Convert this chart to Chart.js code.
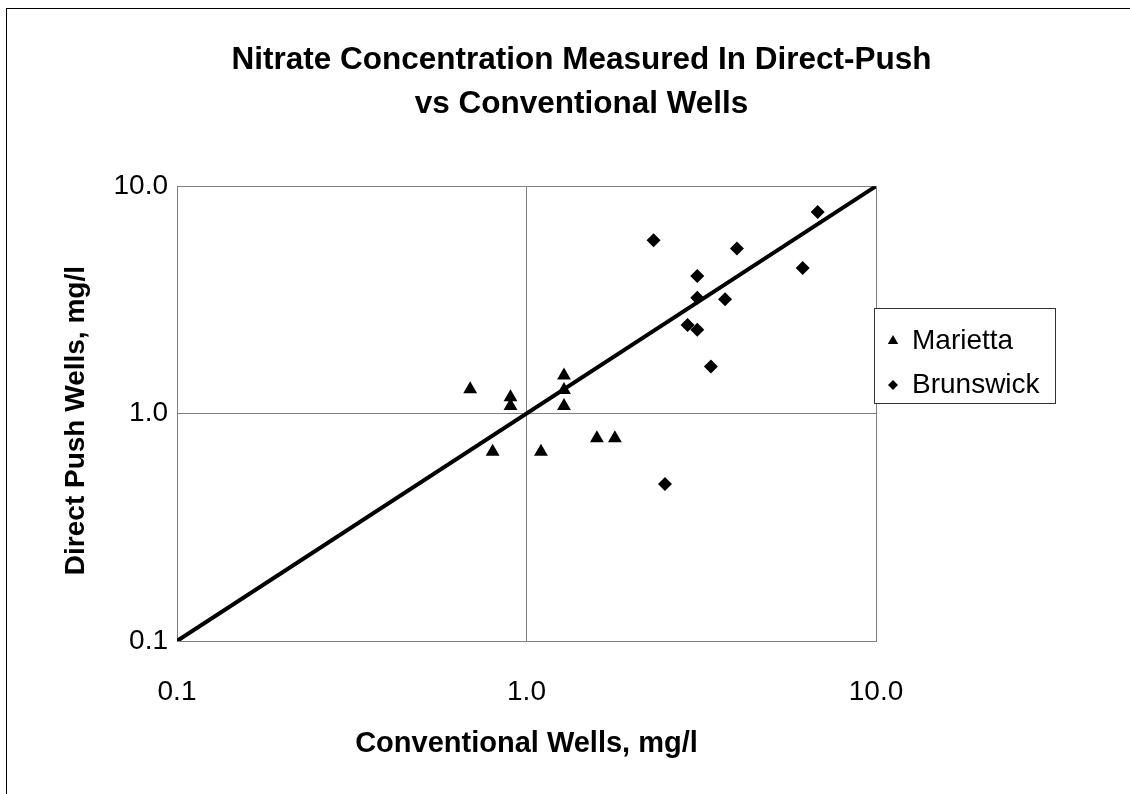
<!DOCTYPE html>
<html><head><meta charset="utf-8">
<script src="https://cdn.jsdelivr.net/npm/chart.js@4"></script>
<style>html,body{margin:0;padding:0;background:#fff}canvas{display:block}</style>
</head><body>
<div style="width:1130px;height:794px"><canvas id="c" width="1130" height="794"></canvas></div>
<script>
const titleLines = ['Nitrate Concentration Measured In Direct-Push', 'vs Conventional Wells'];
const xAxisTitle = 'Conventional Wells, mg/l';
const yAxisTitle = 'Direct Push Wells, mg/l';
const seriesNames = ['Marietta', 'Brunswick'];

const mariettaX = [0.69, 0.90, 0.90, 1.28, 1.28, 1.28, 1.59, 1.79, 0.80, 1.10];
const mariettaY = [1.28, 1.18, 1.08, 1.47, 1.27, 1.08, 0.78, 0.78, 0.68, 0.68];

const brunswickX = [2.31, 6.81, 4.00, 6.17, 3.08, 3.08, 3.70, 2.89, 3.08, 3.37, 2.49];
const brunswickY = [5.79, 7.71, 5.32, 4.37, 4.03, 3.23, 3.18, 2.45, 2.34, 1.61, 0.49];

const lineX = [0.1, 10];
const lineY = [0.1, 10];

const tickValues = [0.1, 1, 10];
const tickLabels = ['0.1', '1.0', '10.0'];

const FONT = "'Liberation Sans', Arial, Helvetica, sans-serif";
const pts = (xs, ys) => xs.map((x, i) => ({x: x, y: ys[i]}));
const setTicks = s => { s.ticks = tickValues.map(v => ({value: v})); };
const tickCb = v => { const i = tickValues.findIndex(t => Math.abs(t - v) < 1e-9); return i >= 0 ? tickLabels[i] : ''; };

const framePlugin = {
  id: 'frame',
  afterDraw(chart) {
    const ctx = chart.ctx;
    ctx.save();
    // outer chart border
    ctx.strokeStyle = '#000';
    ctx.lineWidth = 1;
    ctx.strokeRect(6.5, 8.5, 1400, 1000);
    // y axis title
    const ya = chart.scales.y;
    ctx.translate(76, (ya.top + ya.bottom) / 2 + 7);
    ctx.rotate(-Math.PI / 2);
    ctx.font = 'bold 28px ' + FONT;
    ctx.fillStyle = '#000';
    ctx.textAlign = 'center';
    ctx.textBaseline = 'middle';
    ctx.fillText(yAxisTitle, 0, 0);
    ctx.setTransform(1, 0, 0, 1, 0, 0);
    // legend
    const bx = 874.5, by = 308.5, bw = 181, bh = 95;
    ctx.fillStyle = '#fff';
    ctx.fillRect(bx, by, bw, bh);
    ctx.strokeStyle = '#333';
    ctx.strokeRect(bx, by, bw, bh);
    const items = chart.data.datasets.filter(d => d.type === 'scatter');
    const rows = [{my: 341, ty: 349, r: 6}, {my: 385, ty: 393, r: 5}];
    ctx.font = '28px ' + FONT;
    ctx.textBaseline = 'alphabetic';
    ctx.textAlign = 'left';
    items.forEach((d, i) => {
      const row = rows[i];
      ctx.fillStyle = '#000';
      ctx.strokeStyle = '#000';
      Chart.helpers.drawPoint(ctx, {pointStyle: d.pointStyle, radius: row.r, borderWidth: 0, rotation: 0}, 893, row.my);
      ctx.fillStyle = '#000';
      ctx.fillText(d.label, 912, row.ty);
    });
    ctx.restore();
  }
};

new Chart(document.getElementById('c'), {
  data: {
    datasets: [
      {type: 'scatter', label: seriesNames[0], data: pts(mariettaX, mariettaY), pointStyle: 'triangle', pointRadius: 8, backgroundColor: '#000', borderColor: '#000', borderWidth: 0, order: 1},
      {type: 'scatter', label: seriesNames[1], data: pts(brunswickX, brunswickY), pointStyle: 'rectRot', pointRadius: 7, backgroundColor: '#000', borderColor: '#000', borderWidth: 0, order: 1},
      {type: 'line', label: 'y = x', data: pts(lineX, lineY), borderColor: '#000', borderWidth: 4, pointRadius: 0, fill: false, order: 2}
    ]
  },
  options: {
    responsive: false,
    animation: false,
    events: [],
    layout: {padding: {left: 33, right: 0, top: 0, bottom: 0}},
    plugins: {
      legend: {display: false},
      tooltip: {enabled: false},
      title: {
        display: true, text: titleLines, color: '#000',
        font: {family: FONT, size: 31.5, weight: 'bold', lineHeight: 1.4},
        padding: {top: 38, bottom: 60}
      }
    },
    scales: {
      x: {
        type: 'logarithmic', position: 'bottom', min: 0.1, max: 10,
        afterBuildTicks: setTicks,
        afterFit: s => { s.height = 153; },
        ticks: {callback: tickCb, color: '#000', font: {family: FONT, size: 28}, padding: 34, maxRotation: 0, autoSkip: false},
        grid: {color: '#808080', lineWidth: 1, drawTicks: false},
        border: {display: true, color: '#808080', width: 1},
        title: {display: true, text: xAxisTitle, color: '#000', font: {family: FONT, size: 29, weight: 'bold', lineHeight: 1.2}, padding: {top: 0, bottom: 33}}
      },
      y: {
        type: 'logarithmic', position: 'left', min: 0.1, max: 10,
        afterBuildTicks: setTicks,
        afterFit: s => { s.width = 144; },
        ticks: {callback: tickCb, color: '#000', font: {family: FONT, size: 28}, padding: 9, autoSkip: false},
        grid: {color: '#808080', lineWidth: 1, drawTicks: false},
        border: {display: true, color: '#808080', width: 1},
        title: {display: false, text: yAxisTitle}
      },
      y2: {
        type: 'linear', position: 'right', display: true,
        afterFit: s => { s.width = 254; },
        ticks: {display: false},
        grid: {display: false, drawTicks: false},
        border: {display: false}
      }
    }
  },
  plugins: [framePlugin]
});
</script>
</body></html>
